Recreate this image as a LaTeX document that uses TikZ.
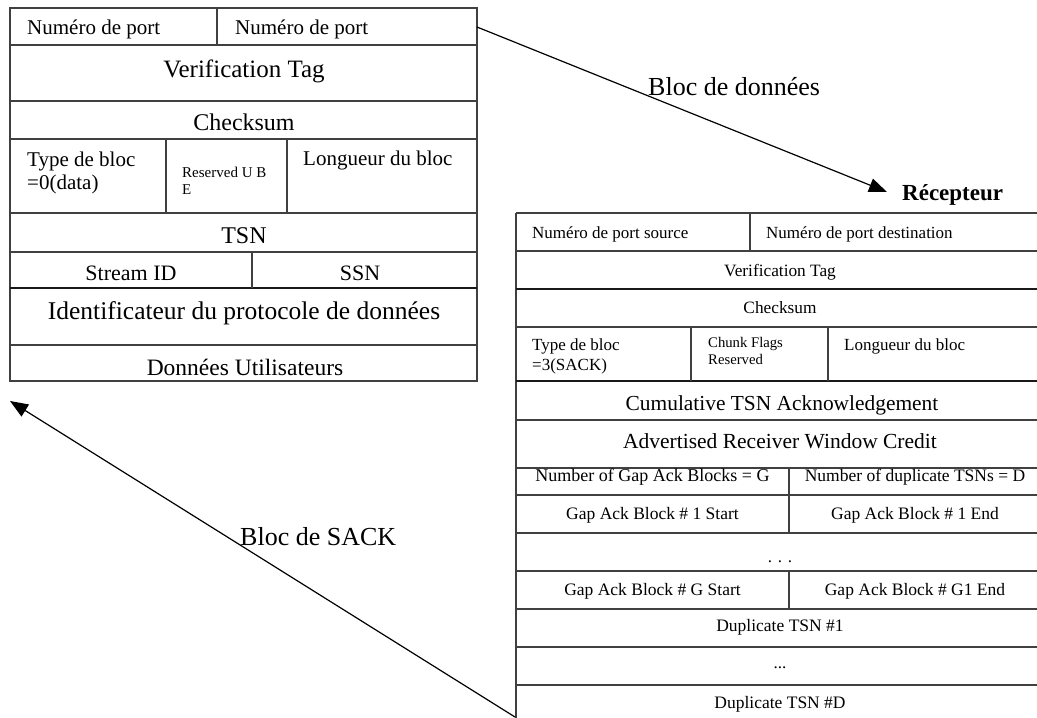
\documentclass[tikz,border=0pt]{standalone}
\usepackage{fontspec}
\setmainfont{Liberation Serif}
\usetikzlibrary{arrows.meta}
\newcommand\fsz[1]{\fontsize{#1}{#1}\selectfont}
\begin{document}
\begin{tikzpicture}[x=1pt,y=-1pt,
  grid/.style={draw=black!75,line width=1.3pt},
  heavy/.style={draw=black!90,line width=2pt},
  lbl/.style={inner sep=0pt,anchor=base},
  lblw/.style={inner sep=0pt,anchor=base west},
  arr/.style={draw=black,line width=1.2pt,-{Triangle[length=18pt,width=14pt]}},
]
\useasboundingbox (0,0) rectangle (1037,718);

% ---------- left table (data chunk) ----------
\draw[grid] (10,8) rectangle (477,381);
\foreach \y in {45,101,139,213,252,345} \draw[grid] (10,\y) -- (477,\y);
\draw[heavy] (10,288) -- (477,288);
\draw[grid] (217,8) -- (217,45);
\draw[grid] (166,139) -- (166,213);
\draw[grid] (287,139) -- (287,213);
\draw[grid] (252,252) -- (252,288);

\node[lblw,font=\fsz{21}] (l1a) at (27,34) {Numéro de port};
\node[lblw,font=\fsz{21}] (l1b) at (235,34) {Numéro de port};
\node[lbl,font=\fsz{25}] (lvt) at (244,77) {Verification Tag};
\node[lbl,font=\fsz{24}] (lck) at (244,130) {Checksum};
\node[lblw,font=\fsz{21}] (lty1) at (27,166.5) {Type de bloc};
\node[lblw,font=\fsz{21}] (lty2) at (27,189.5) {=0(data)};
\node[lblw,font=\fsz{15}] (lrs1) at (182,177) {Reserved U B};
\node[lblw,font=\fsz{15}] (lrs2) at (182,194) {E};
\node[lblw,font=\fsz{21}] (llg) at (303,165.7) {Longueur du bloc};
\node[lbl,font=\fsz{24}] (ltsn) at (244,243) {TSN};
\node[lbl,font=\fsz{22}] (lsid) at (131,280) {Stream ID};
\node[lbl,font=\fsz{22}] (lssn) at (360,280) {SSN};
\node[lbl,font=\fsz{25.5}] (lid) at (244,319) {Identificateur du protocole de données};
\node[lbl,font=\fsz{23.5}] (lud) at (245,375) {Données Utilisateurs};

% ---------- right table (SACK chunk) ----------
\draw[grid] (516,213) -- (1037,213);
\draw[grid] (516,213) -- (516,718);
\foreach \y in {251,327,420,468,495,533,571,609,647,685} \draw[grid] (516,\y) -- (1037,\y);
\draw[heavy] (516,289) -- (1037,289);
\draw[heavy] (516,381) -- (1037,381);
\draw[grid] (750,213) -- (750,251);
\draw[grid] (691,327) -- (691,381);
\draw[grid] (828,327) -- (828,381);
\draw[grid] (789,468) -- (789,533);
\draw[grid] (789,571) -- (789,609);

\node[lblw,font=\fsz{17}] (r1a) at (532,238) {Numéro de port source};
\node[lblw,font=\fsz{17}] (r1b) at (766,238) {Numéro de port destination};
\node[lbl,font=\fsz{17.3}] (rvt) at (780,276) {Verification Tag};
\node[lbl,font=\fsz{17.3}] (rck) at (780,313) {Checksum};
\node[lblw,font=\fsz{17}] (rty1) at (532,350.5) {Type de bloc};
\node[lblw,font=\fsz{17}] (rty2) at (532,370) {=3(SACK)};
\node[lblw,font=\fsz{14.7}] (rcf1) at (708,347) {Chunk Flags};
\node[lblw,font=\fsz{14.7}] (rcf2) at (708,364) {Reserved};
\node[lblw,font=\fsz{17}] (rlg) at (844,350.7) {Longueur du bloc};
\node[lbl,font=\fsz{21.4}] (rcum) at (782,410) {Cumulative TSN Acknowledgement};
\node[lbl,font=\fsz{21.5}] (radv) at (780,448) {Advertised Receiver Window Credit};
\node[lbl,font=\fsz{18}] (rng) at (652.5,481) {Number of Gap Ack Blocks = G};
\node[lbl,font=\fsz{17.5}] (rnd) at (915,481) {Number of duplicate TSNs = D};
\node[lbl,font=\fsz{17.5}] (rg1s) at (652.5,519) {Gap Ack Block \# 1 Start};
\node[lbl,font=\fsz{17.5}] (rg1e) at (915,519) {Gap Ack Block \# 1 End};
\node[lbl,font=\fsz{17}] (rdot1) at (780,562) {. . .};
\node[lbl,font=\fsz{17.5}] (rggs) at (652.5,595) {Gap Ack Block \# G Start};
\node[lbl,font=\fsz{17.5}] (rgge) at (915,595) {Gap Ack Block \# G1 End};
\node[lbl,font=\fsz{17.5}] (rd1) at (780,631.5) {Duplicate TSN \#1};
\node[lbl,font=\fsz{17}] (rdot2) at (780,668.5) {...};
\node[lbl,font=\fsz{17.5}] (rdd) at (780,708) {Duplicate TSN \#D};

% ---------- arrows and labels ----------
\coordinate (dstart) at (477,27);
\coordinate (dend) at (887,192);
\draw[arr] (dstart) -- (dend);
\coordinate (sstart) at (515,717);
\coordinate (send) at (10,401);
\draw[arr] (sstart) -- (send);

\node[lblw,font=\fsz{26}] (ldata) at (648,95) {Bloc de données};
\node[lblw,font=\fsz{26}] (lsack) at (240,545) {Bloc de SACK};
\node[lblw,font=\fsz{23}\bfseries] (recv) at (902,200) {Récepteur};
\end{tikzpicture}
\end{document}
